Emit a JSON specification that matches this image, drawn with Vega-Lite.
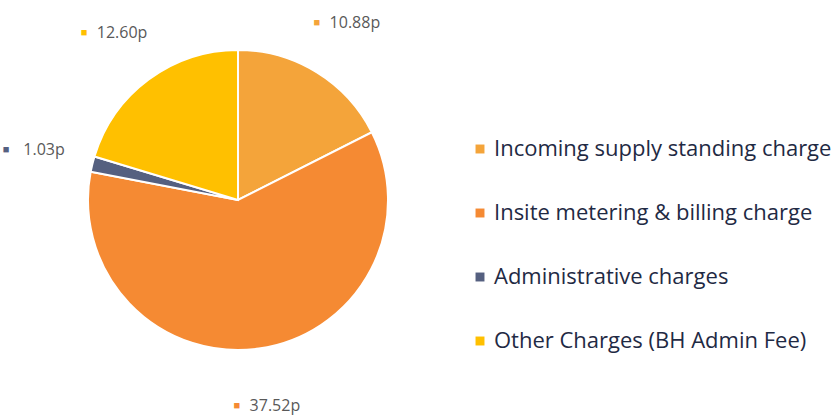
{
  "$schema": "https://vega.github.io/schema/vega-lite/v6.json",
  "autosize": {"type": "none"},
  "width": 476,
  "height": 400,
  "padding": {"left": 0, "top": 0, "right": 362, "bottom": 18},
  "background": "white",
  "config": {"view": {"stroke": null}, "font": "Open Sans"},
  "data": {
    "values": [
      {"rank": 1, "charge": "Incoming supply standing charge", "value": 10.88, "label": "10.88p"},
      {"rank": 2, "charge": "Insite metering & billing charge", "value": 37.52, "label": "37.52p"},
      {"rank": 3, "charge": "Administrative charges", "value": 1.03, "label": "1.03p"},
      {"rank": 4, "charge": "Other Charges (BH Admin Fee)", "value": 12.60, "label": "12.60p"}
    ]
  },
  "encoding": {
    "theta": {"field": "value", "type": "quantitative", "stack": true},
    "order": {"field": "rank", "type": "quantitative"},
    "color": {
      "field": "charge",
      "type": "nominal",
      "sort": null,
      "scale": {
        "domain": ["Incoming supply standing charge", "Insite metering & billing charge", "Administrative charges", "Other Charges (BH Admin Fee)"],
        "range": ["#F4A43A", "#F58A33", "#556080", "#FFC000"]
      },
      "legend": {
        "title": null,
        "orient": "none",
        "legendX": 469,
        "legendY": 138,
        "symbolType": "square",
        "symbolSize": 80,
        "symbolStrokeWidth": 0,
        "labelFontSize": 22,
        "labelColor": "#1F2A44",
        "labelFont": "Open Sans",
        "rowPadding": 42,
        "labelOffset": 3,
        "labelLimit": 400
      }
    }
  },
  "layer": [
    {
      "mark": {"type": "arc", "outerRadius": 150, "stroke": "white", "strokeWidth": 2}
    },
    {
      "mark": {"type": "text", "radius": 208, "fontSize": 11, "dx": -30},
      "encoding": {"text": {"value": "■"}}
    },
    {
      "mark": {"type": "text", "radius": 208, "fontSize": 16, "dx": 8, "font": "Open Sans"},
      "encoding": {"text": {"field": "label"}, "color": {"value": "#595959"}}
    }
  ]
}
